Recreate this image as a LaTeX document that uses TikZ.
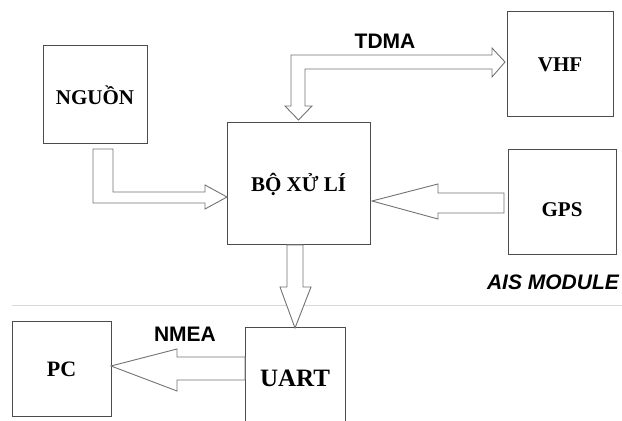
\documentclass[tikz,border=0pt]{standalone}
\usepackage{fontspec}
\setmainfont{Liberation Serif}
\setsansfont{Liberation Sans}
\usetikzlibrary{calc}
\tikzset{
  blk/.style={draw=black!70, line width=0.5pt, outer sep=0pt, inner sep=0pt,
    font=\bfseries\fontsize{10.5}{12}\selectfont},
  hollow/.style={draw=black!55, line width=0.45pt, fill=white, line join=miter},
  tag/.style={font=\sffamily\bfseries\fontsize{10.5}{12}\selectfont},
}
\begin{document}
\begin{tikzpicture}[x=0.5pt,y=-0.5pt]
  \clip (0,0) rectangle (622,421);
  \node[blk, minimum width=52pt, minimum height=49pt] (ngu) at (95,95) {NGUỒN};
  \node[blk, minimum width=71.5pt, minimum height=61pt] (cpu) at (298.5,184) {BỘ XỬ LÍ};
  \node[blk, minimum width=53pt, minimum height=52.5pt] (vhf) at (560,64.5) {VHF};
  \node[blk, minimum width=54pt, minimum height=52.5pt, text height=14.5pt,
    text depth=0pt] (gps) at (562,202.5) {GPS};
  \node[blk, minimum width=50pt, minimum height=50pt,
    font=\bfseries\fontsize{12.5}{14}\selectfont] (uart) at (295,378) {UART};
  \node[blk, minimum width=49.5pt, minimum height=47.5pt,
    font=\bfseries\fontsize{11}{13}\selectfont] (pc) at (61.5,369.5) {PC};

  \draw[black!15, line width=0.5pt] (12,306) -- (622,306);

  \draw[hollow] ($(ngu.south)+(-2,5)$) -- ++(20,0) -- ++(0,43) -- ++(92,0) -- ++(0,-7)
    -- ($(cpu.west)+(0,13)$) -- ++(-22,12) -- ++(0,-6) -- ++(-112,0) -- cycle;
  \draw[hollow] ($(cpu.north)+(0,-3)$) -- ++(-13.5,-14) -- ++(6,0) -- ++(0,-51)
    -- ++(201,0) -- ++(0,-7) -- ($(vhf.west)+(-2,-2.5)$) -- ++(-13,15) -- ++(0,-8)
    -- ++(-187,0) -- ++(0,37) -- ++(7,0) -- cycle;
  \draw[hollow] ($(cpu.east)+(2,17)$) -- ++(66,-17) -- ++(0,9) -- ++(66,0)
    -- ++(0,20) -- ++(-66,0) -- ++(0,6) -- cycle;
  \draw[hollow] ($(cpu.south)+(-11.5,0)$) -- ++(16,0) -- ++(0,42) -- ++(8,0)
    -- (uart.north) -- ++(-15,-41) -- ++(7,0) -- cycle;
  \draw[hollow] ($(uart.west)+(0,-21)$) -- ++(0,23) -- ++(-68,0) -- ++(0,11)
    -- ($(pc.east)+(0,-3.5)$) -- ++(66,-17) -- ++(0,8) -- cycle;

  \node[tag] (tdma) at (385,41) {TDMA};
  \node[tag] (nmea) at (185,334) {NMEA};
  \node[tag, font=\sffamily\bfseries\itshape\fontsize{10.5}{12}\selectfont] (ais) at (553,282) {AIS MODULE};
\end{tikzpicture}
\end{document}
